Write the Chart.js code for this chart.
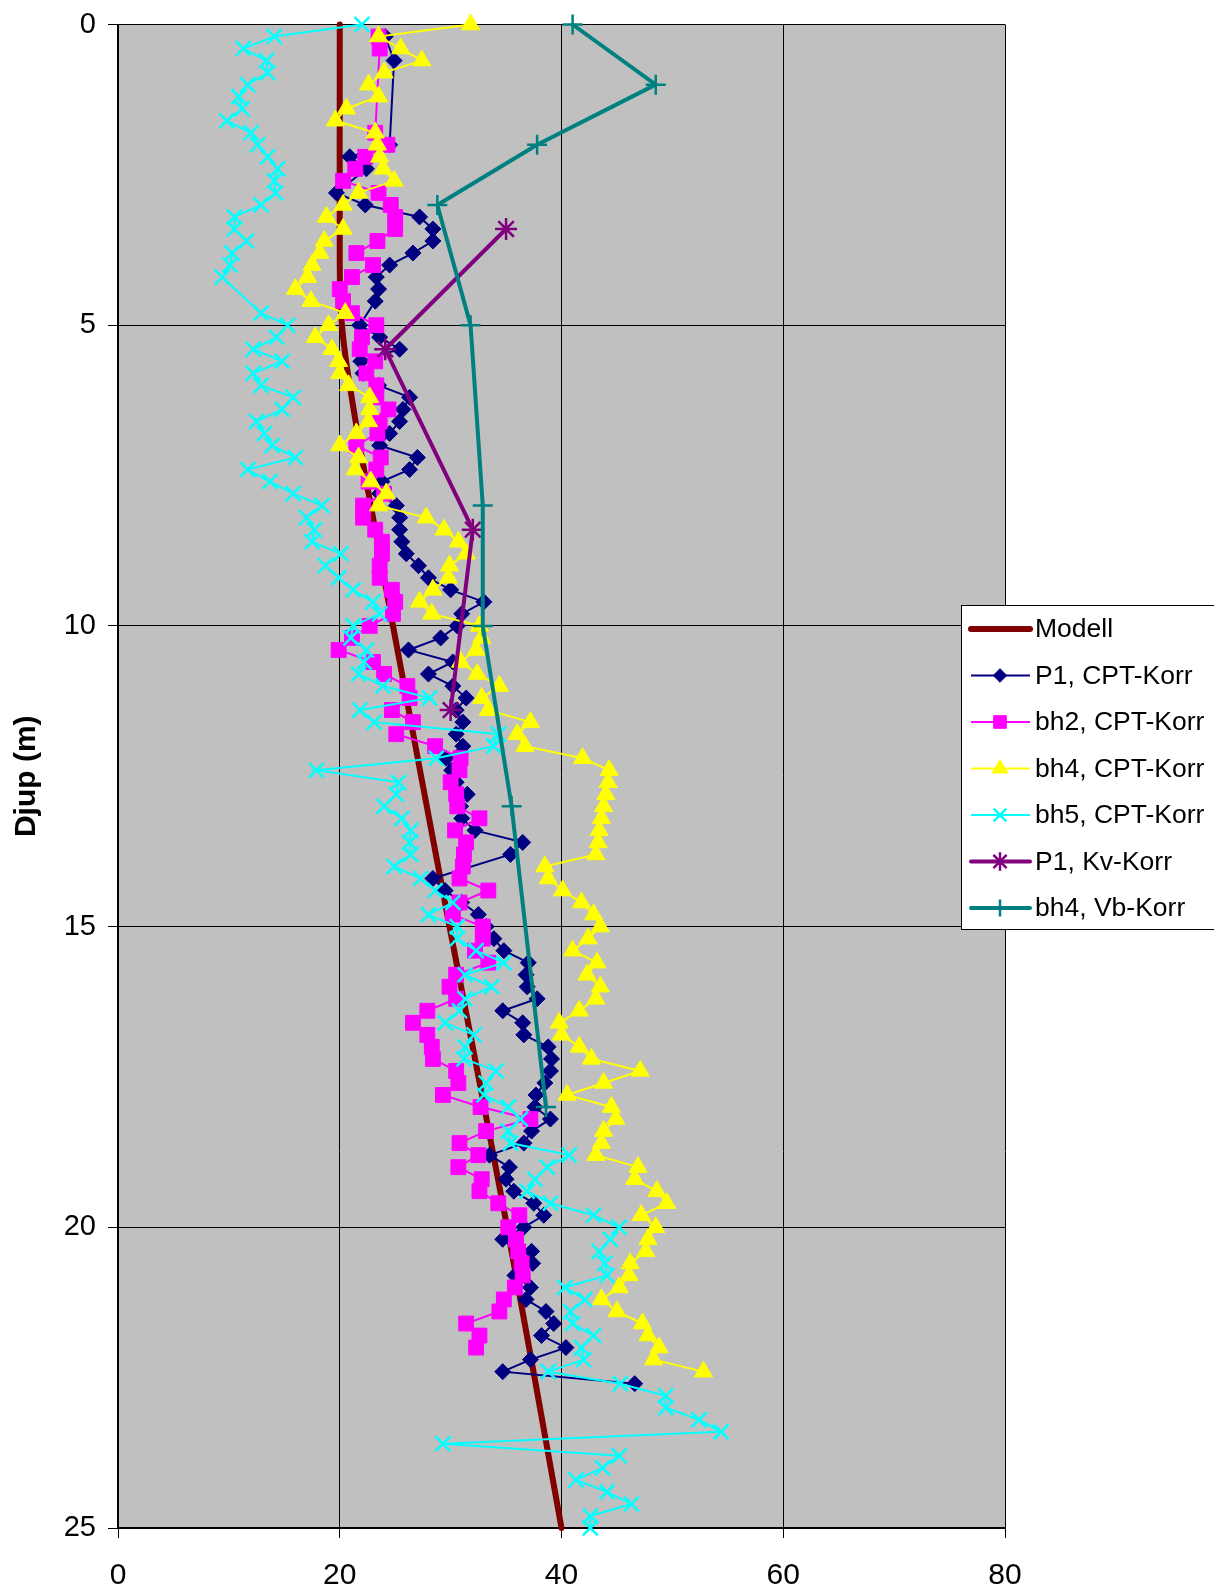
<!DOCTYPE html>
<html lang="sv">
<head>
    <meta charset="UTF-8">
    <title>Djup - CPT-Korr</title>
    <script src="https://cdn.jsdelivr.net/npm/chart.js@4.4.0/dist/chart.umd.min.js"></script>
    <style>
        html, body {
            margin: 0;
            padding: 0;
            background: #fff;
        }
        #wrap {
            position: relative;
            width: 1214px;
            height: 1592px;
        }
    </style>
</head>
<body>
    <div id="wrap"><canvas id="depthChart"></canvas></div>

    <script>
        // Tick settings
        const xTicks = { min: 0, max: 80, step: 20 };
        const yTicks = { min: 0, max: 25, step: 5 };

        // Modell
        const modellDepth = [0, 4, 4.5, 5, 5.5, 6, 7, 8, 10, 15, 20, 25];
        const modellValue = [20, 20, 20.05, 20.2, 20.5, 20.9, 21.8, 22.8, 24.8, 29.9, 35.1, 40];

        // P1, CPT-Korr
        const p1CptDepth = [
            0.2, 0.6, 2.0, 2.2, 2.4, 2.8, 3.0, 3.2, 3.4, 3.6, 3.8, 4.0, 4.2, 4.4, 4.6,
            5.0, 5.2, 5.4, 5.6, 5.8, 6.0, 6.2, 6.4, 6.6, 6.8, 7.0, 7.2, 7.4, 7.6, 7.8,
            8.0, 8.2, 8.4, 8.6, 8.8, 9.0, 9.2, 9.4, 9.6, 9.8, 10.0, 10.2, 10.4, 10.6, 10.8,
            11.0, 11.2, 11.4, 11.6, 11.8, 12.0, 12.2, 12.4, 12.6, 12.8, 13.0, 13.2, 13.4, 13.6, 13.8,
            14.2, 14.4, 14.6, 14.8, 15.0, 15.2, 15.4, 15.6, 15.8, 16.0, 16.2, 16.4, 16.6, 16.8,
            17.0, 17.2, 17.4, 17.6, 17.8, 18.0, 18.2, 18.4, 18.6, 18.8, 19.0, 19.2, 19.4, 19.6, 19.8,
            20.0, 20.2, 20.4, 20.6, 20.8, 21.0, 21.2, 21.4, 21.6, 21.8, 22.0, 22.2, 22.4, 22.6
        ];
        const p1CptValue = [
            24.1, 24.9, 24.5, 20.9, 22.4, 19.7, 22.3, 27.2, 28.4, 28.4, 26.6, 24.5, 23.3, 23.5, 23.2,
            21.8, 23.6, 25.4, 21.9, 22.1, 23.5, 26.3, 25.7, 25.4, 24.5, 23.6, 27.0, 26.3, 23.8, 23.6,
            25.1, 25.4, 25.4, 25.6, 26.0, 27.1, 28.0, 30.0, 33.0, 31.0, 30.6, 29.1, 26.2, 30.2, 28.0,
            30.2, 31.4, 30.5, 31.1, 30.5, 31.1, 29.6, 30.1, 30.5, 31.5, 30.9, 31.0, 32.2, 36.5, 35.4,
            28.4, 29.5, 31.0, 32.5, 33.2, 33.9, 34.8, 37.0, 36.8, 36.9, 37.8, 34.7, 36.5, 36.6,
            38.8, 39.1, 39.0, 38.5, 37.7, 37.6, 39.0, 37.3, 36.6, 33.5, 35.3, 35.0, 35.7, 37.5, 38.4,
            36.6, 34.7, 37.3, 37.4, 35.8, 37.2, 36.8, 38.6, 39.3, 38.2, 40.4, 37.2, 34.7, 46.6
        ];

        // bh2, CPT-Korr
        const bh2CptDepth = [
            0.2, 0.4, 1.8, 2.0, 2.2, 2.4, 2.6, 2.8, 3.0, 3.2, 3.4, 3.6, 3.8,
            4.0, 4.2, 4.4, 4.6, 4.8, 5.0, 5.2, 5.4, 5.6, 5.8, 6.0, 6.2, 6.4, 6.6, 6.8,
            7.0, 7.2, 7.4, 7.6, 7.8, 8.0, 8.2, 8.4, 8.6, 8.8, 9.0, 9.2, 9.4, 9.6, 9.8,
            10.0, 10.2, 10.4, 10.6, 10.8, 11.0, 11.2, 11.4, 11.6, 11.8, 12.0, 12.2, 12.4, 12.6, 12.8,
            13.0, 13.2, 13.4, 13.6, 13.8, 14.0, 14.2, 14.4, 14.6, 14.8, 15.0, 15.2, 15.4, 15.6, 15.8,
            16.0, 16.2, 16.4, 16.6, 16.8, 17.0, 17.2, 17.4, 17.6, 17.8, 18.0, 18.2, 18.4, 18.6, 18.8,
            19.0, 19.2, 19.4, 19.6, 19.8, 20.0, 20.2, 20.4, 20.6, 20.8, 21.0, 21.2, 21.4, 21.6, 21.8,
            22.0
        ];
        const bh2CptValue = [
            23.5, 23.6, 23.2, 24.3, 22.3, 21.4, 20.3, 23.5, 24.6, 25.0, 25.0, 23.4, 21.5,
            23.0, 21.1, 20.0, 20.3, 21.1, 23.3, 22.0, 21.8, 23.2, 22.4, 23.3, 23.3, 24.4, 23.6, 23.4,
            21.5, 23.7, 23.3, 22.6, 24.0, 22.1, 22.1, 23.2, 23.8, 23.8, 23.6, 23.6, 24.7, 25.0, 24.8,
            22.7, 21.1, 19.9, 23.0, 24.0, 26.1, 26.3, 24.7, 26.6, 25.1, 28.6, 30.9, 30.8, 30.0, 30.5,
            30.6, 32.6, 30.4, 31.4, 31.2, 31.1, 30.8, 33.4, 30.8, 30.2, 32.9, 32.9, 32.2, 33.4, 30.5,
            29.9, 30.5, 27.9, 26.6, 27.9, 28.3, 28.4, 30.5, 30.7, 29.3, 32.7, 37.2, 33.2, 30.8, 32.5,
            30.7, 32.8, 32.6, 34.3, 36.2, 35.2, 35.9, 36.1, 36.4, 36.5, 35.8, 34.8, 34.4, 31.4, 32.6,
            32.3
        ];

        // bh4, CPT-Korr
        const bh4CptDepth = [
            0.0, 0.2, 0.4, 0.6, 0.8, 1.0, 1.2, 1.4, 1.6, 1.8, 2.0, 2.2, 2.4, 2.6, 2.8,
            3.0, 3.2, 3.4, 3.6, 3.8, 4.0, 4.2, 4.4, 4.6, 4.8, 5.0, 5.2, 5.4, 5.6, 5.8,
            6.0, 6.2, 6.4, 6.6, 6.8, 7.0, 7.2, 7.4, 7.6, 7.8, 8.0, 8.2, 8.4, 8.6, 8.8,
            9.0, 9.2, 9.4, 9.6, 9.8, 10.0, 10.2, 10.4, 10.6, 10.8, 11.0, 11.2, 11.4, 11.6, 11.8,
            12.0, 12.2, 12.4, 12.6, 12.8, 13.0, 13.2, 13.4, 13.6, 13.8, 14.0, 14.2, 14.4, 14.6, 14.8,
            15.0, 15.2, 15.4, 15.6, 15.8, 16.0, 16.2, 16.4, 16.6, 16.8, 17.0, 17.2, 17.4, 17.6, 17.8,
            18.0, 18.2, 18.4, 18.6, 18.8, 19.0, 19.2, 19.4, 19.6, 19.8, 20.0, 20.2, 20.4, 20.6, 20.8,
            21.0, 21.2, 21.4, 21.6, 21.8, 22.0, 22.2, 22.4
        ];
        const bh4CptValue = [
            31.8, 23.5, 25.5, 27.4, 24.0, 22.6, 23.5, 20.6, 19.6, 23.2, 23.4, 23.6, 23.9, 24.9, 21.7,
            20.3, 18.8, 20.3, 18.6, 18.2, 17.5, 17.1, 16.0, 17.4, 20.5, 19.0, 17.8, 19.3, 19.9, 20.0,
            20.8, 22.7, 22.7, 22.6, 21.5, 20.0, 21.7, 21.4, 22.8, 24.2, 23.5, 27.8, 29.4, 30.7, 31.4,
            29.9, 29.8, 28.4, 27.2, 28.3, 32.6, 32.8, 32.3, 30.9, 32.4, 34.4, 32.8, 33.4, 37.2, 36.0,
            36.7, 41.9, 44.3, 44.2, 44.0, 43.8, 43.6, 43.4, 43.3, 43.1, 38.5, 38.8, 40.1, 41.8, 42.9,
            43.5, 42.4, 41.0, 43.2, 42.3, 43.5, 43.1, 41.6, 39.8, 40.0, 41.6, 42.7, 47.1, 43.8, 40.5,
            44.5, 44.9, 43.8, 43.6, 43.1, 46.9, 46.6, 48.6, 49.5, 47.2, 48.5, 47.8, 47.6, 46.2, 46.1,
            45.2, 43.6, 45.0, 47.3, 47.8, 48.8, 48.3, 52.8
        ];

        // bh5, CPT-Korr
        const bh5CptDepth = [
            0.0, 0.2, 0.4, 0.6, 0.8, 1.0, 1.2, 1.4, 1.6, 1.8, 2.0, 2.2, 2.4, 2.6, 2.8,
            3.0, 3.2, 3.4, 3.6, 3.8, 4.0, 4.2, 4.8, 5.0, 5.2, 5.4, 5.6, 5.8,
            6.0, 6.2, 6.4, 6.6, 6.8, 7.0, 7.2, 7.4, 7.6, 7.8, 8.0, 8.2, 8.4, 8.6, 8.8,
            9.0, 9.2, 9.4, 9.6, 9.8, 10.0, 10.2, 10.4, 10.6, 10.8, 11.0, 11.2, 11.4, 11.6, 11.8,
            12.0, 12.2, 12.4, 12.6, 12.8, 13.0, 13.2, 13.4, 13.6, 13.8, 14.0, 14.2, 14.4, 14.6, 14.8,
            15.0, 15.2, 15.4, 15.6, 15.8, 16.0, 16.2, 16.4, 16.6, 16.8, 17.0, 17.2, 17.4, 17.6, 17.8,
            18.0, 18.2, 18.4, 18.6, 18.8, 19.0, 19.2, 19.4, 19.6, 19.8, 20.0, 20.2, 20.4, 20.6, 20.8,
            21.0, 21.2, 21.4, 21.6, 21.8, 22.0, 22.2, 22.4, 22.6, 22.8, 23.0, 23.2, 23.4, 23.6, 23.8,
            24.0, 24.2, 24.4, 24.6, 24.8, 25.0
        ];
        const bh5CptValue = [
            22.0, 14.1, 11.3, 13.4, 13.5, 11.7, 10.9, 11.2, 9.8, 12.0, 12.6, 13.5, 14.4, 14.1, 14.2,
            12.9, 10.5, 10.5, 11.6, 10.3, 10.1, 9.4, 12.9, 15.3, 14.3, 12.2, 14.8, 12.2,
            12.9, 15.8, 14.8, 12.5, 13.2, 13.9, 16.0, 11.7, 13.7, 15.8, 18.4, 17.0, 17.7, 17.5, 20.1,
            18.7, 19.9, 21.2, 23.0, 23.6, 21.2, 21.0, 22.4, 22.2, 21.7, 23.9, 28.1, 21.8, 23.1, 34.3,
            33.9, 28.7, 17.9, 25.3, 25.1, 24.0, 25.6, 26.4, 26.3, 26.4, 24.9, 27.3, 28.6, 30.2, 28.0,
            30.6, 30.6, 32.3, 34.8, 31.3, 33.7, 31.3, 30.8, 29.5, 32.1, 31.3, 31.2, 34.1, 33.2, 33.0,
            35.2, 36.3, 35.2, 35.4, 40.7, 38.7, 37.6, 36.9, 39.0, 42.9, 45.2, 44.4, 43.4, 43.9, 44.1,
            40.3, 42.1, 40.8, 41.0, 42.9, 41.8, 42.0, 38.8, 45.3, 49.4, 49.4, 52.4, 54.4, 29.3, 45.2,
            43.7, 41.3, 44.1, 46.3, 42.6, 42.6
        ];

        // P1, Kv-Korr
        const p1KvDepth = [3.4, 5.4, 8.4, 11.4];
        const p1KvValue = [35.0, 24.1, 32.0, 30.0];

        // bh4, Vb-Korr
        const bh4VbDepth = [0, 1, 2, 3, 5, 8, 10, 13, 18];
        const bh4VbValue = [41.0, 48.5, 37.8, 28.8, 31.8, 32.9, 32.9, 35.5, 38.6];

        const FONT = '"Liberation Sans", Arial, sans-serif';
        Chart.defaults.font.family = FONT;
        Chart.defaults.color = '#000';

        // depth on the y axis, value on the x axis
        function toPoints(depth, value) {
            return depth.map((d, i) => ({ x: value[i], y: d }));
        }

        // grey plot area like the spreadsheet original
        const plotBackground = {
            id: 'plotBackground',
            beforeDraw(chart) {
                const { ctx, chartArea: a } = chart;
                ctx.save();
                ctx.fillStyle = '#c0c0c0';
                ctx.fillRect(a.left, a.top, a.right - a.left, a.bottom - a.top);
                ctx.restore();
            }
        };

        // boxed legend sitting over the right edge of the plot
        const boxLegend = {
            id: 'boxLegend',
            afterDraw(chart) {
                const ctx = chart.ctx;
                const left = 961.5, top = 605.5, rowH = 46.5;
                ctx.save();
                ctx.fillStyle = '#fff';
                ctx.fillRect(left, top, 270, 324);
                ctx.strokeStyle = '#000';
                ctx.lineWidth = 1;
                ctx.strokeRect(left, top, 270, 324);

                chart.data.datasets.forEach((ds, i) => {
                    const y = 629 + i * rowH;
                    ctx.strokeStyle = ds.borderColor;
                    ctx.lineWidth = ds.borderWidth;
                    ctx.lineCap = ds.borderCapStyle || 'butt';
                    ctx.beginPath();
                    ctx.moveTo(971, y);
                    ctx.lineTo(1030, y);
                    ctx.stroke();

                    if (ds.pointRadius > 0 && Chart.helpers && Chart.helpers.drawPoint) {
                        ctx.fillStyle = ds.backgroundColor;
                        ctx.strokeStyle = ds.borderColor;
                        ctx.lineWidth = ds.pointBorderWidth;
                        ctx.lineCap = 'butt';
                        Chart.helpers.drawPoint(ctx, {
                            pointStyle: ds.pointStyle,
                            radius: ds.pointRadius * 0.85,
                            borderWidth: ds.pointBorderWidth,
                            rotation: 0
                        }, 1000, y);
                    }

                    ctx.fillStyle = '#000';
                    ctx.font = '26.5px ' + FONT;
                    ctx.textBaseline = 'middle';
                    ctx.textAlign = 'left';
                    ctx.fillText(ds.label, 1035, y + 1);
                });
                ctx.restore();
            }
        };

        const ctx = document.getElementById('depthChart').getContext('2d');
        new Chart(ctx, {
            type: 'scatter',
            data: {
                datasets: [
                    {
                        label: 'Modell',
                        data: toPoints(modellDepth, modellValue),
                        borderColor: '#800000',
                        backgroundColor: '#800000',
                        borderWidth: 6,
                        borderCapStyle: 'round',
                        pointRadius: 0,
                        pointBorderWidth: 0,
                        tension: 0.4,
                        order: 7
                    },
                    {
                        label: 'P1, CPT-Korr',
                        data: toPoints(p1CptDepth, p1CptValue),
                        borderColor: '#000080',
                        backgroundColor: '#000080',
                        borderWidth: 2,
                        pointStyle: 'rectRot',
                        pointRadius: 8,
                        pointBorderWidth: 1,
                        order: 6
                    },
                    {
                        label: 'bh2, CPT-Korr',
                        data: toPoints(bh2CptDepth, bh2CptValue),
                        borderColor: '#ff00ff',
                        backgroundColor: '#ff00ff',
                        borderWidth: 2,
                        pointStyle: 'rect',
                        pointRadius: 10.5,
                        pointBorderWidth: 1,
                        order: 5
                    },
                    {
                        label: 'bh4, CPT-Korr',
                        data: toPoints(bh4CptDepth, bh4CptValue),
                        borderColor: '#ffff00',
                        backgroundColor: '#ffff00',
                        borderWidth: 2,
                        pointStyle: 'triangle',
                        pointRadius: 10.5,
                        pointBorderWidth: 1,
                        order: 4
                    },
                    {
                        label: 'bh5, CPT-Korr',
                        data: toPoints(bh5CptDepth, bh5CptValue),
                        borderColor: '#00ffff',
                        backgroundColor: '#00ffff',
                        borderWidth: 2,
                        pointStyle: 'crossRot',
                        pointRadius: 10.5,
                        pointBorderWidth: 2.5,
                        order: 3
                    },
                    {
                        label: 'P1, Kv-Korr',
                        data: toPoints(p1KvDepth, p1KvValue),
                        borderColor: '#800080',
                        backgroundColor: '#800080',
                        borderWidth: 4,
                        borderCapStyle: 'round',
                        pointStyle: 'star',
                        pointRadius: 11,
                        pointBorderWidth: 2.5,
                        order: 2
                    },
                    {
                        label: 'bh4, Vb-Korr',
                        data: toPoints(bh4VbDepth, bh4VbValue),
                        borderColor: '#008080',
                        backgroundColor: '#008080',
                        borderWidth: 4,
                        borderCapStyle: 'round',
                        pointStyle: 'cross',
                        pointRadius: 10,
                        pointBorderWidth: 2.5,
                        order: 1
                    }
                ].map(ds => Object.assign({ showLine: true, clip: false, pointHoverRadius: ds.pointRadius }, ds))
            },
            options: {
                responsive: true,
                maintainAspectRatio: false,
                devicePixelRatio: 1,
                animation: false,
                events: [],
                layout: {
                    padding: { top: 24.5, right: 209, bottom: 0, left: 0 }
                },
                plugins: {
                    legend: { display: false },
                    tooltip: { enabled: false }
                },
                scales: {
                    x: {
                        type: 'linear',
                        position: 'bottom',
                        min: xTicks.min,
                        max: xTicks.max,
                        ticks: {
                            stepSize: xTicks.step,
                            font: { size: 30 },
                            color: '#000',
                            padding: 20
                        },
                        grid: {
                            color: '#000',
                            lineWidth: 1,
                            tickLength: 10,
                            tickColor: '#000'
                        },
                        border: { display: true, color: '#000', width: 2 },
                        afterFit(scale) {
                            scale.height = 64;
                            scale.paddingLeft = 0;
                            scale.paddingRight = 0;
                        }
                    },
                    y: {
                        type: 'linear',
                        reverse: true,
                        min: yTicks.min,
                        max: yTicks.max,
                        ticks: {
                            stepSize: yTicks.step,
                            font: { size: 29 },
                            color: '#000',
                            padding: 12
                        },
                        grid: {
                            color: '#000',
                            lineWidth: 1,
                            tickLength: 10,
                            tickColor: '#000'
                        },
                        border: { display: true, color: '#000', width: 2 },
                        title: {
                            display: true,
                            text: 'Djup (m)',
                            color: '#000',
                            font: { size: 30, weight: 'bold' },
                            padding: { top: 9, bottom: 0 }
                        },
                        afterFit(scale) {
                            scale.width = 118;
                            scale.paddingTop = 0;
                            scale.paddingBottom = 0;
                        }
                    }
                }
            },
            plugins: [plotBackground, boxLegend]
        });
    </script>
</body>
</html>
